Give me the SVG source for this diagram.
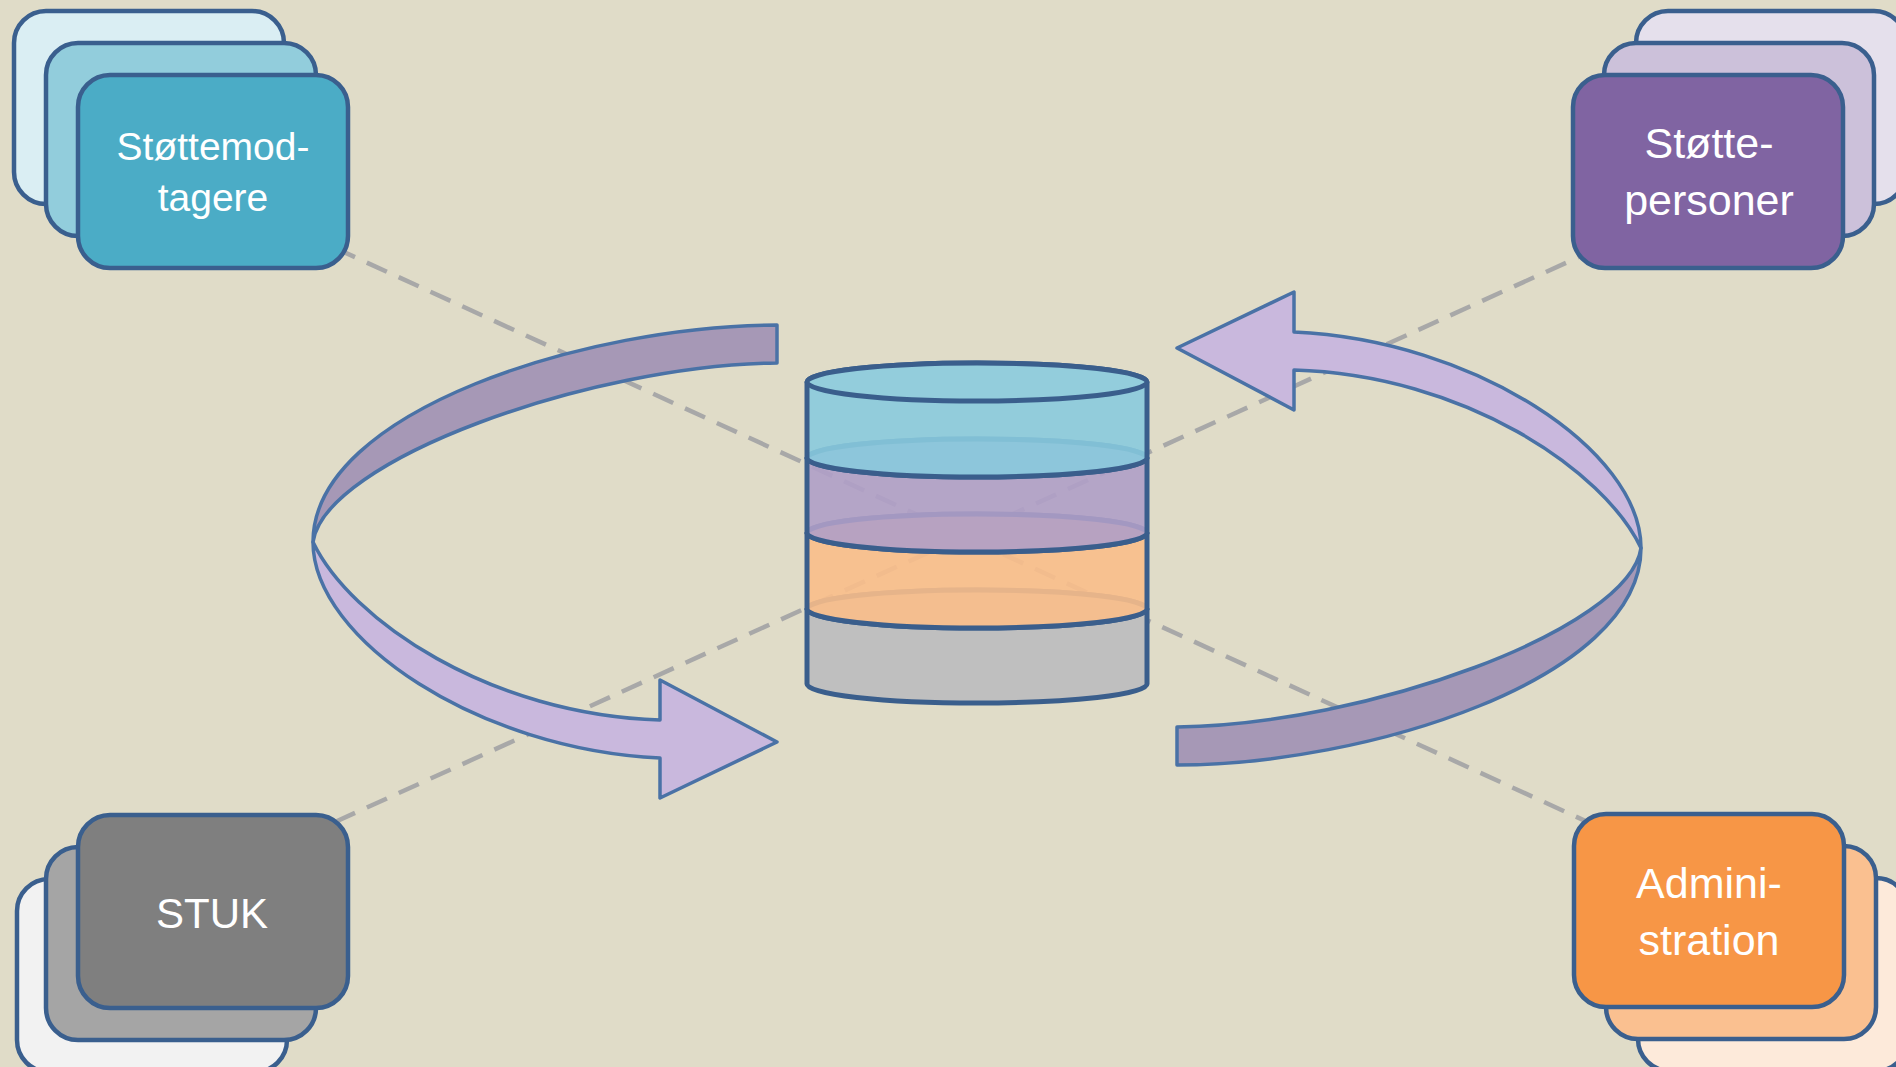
<svg xmlns="http://www.w3.org/2000/svg" width="1896" height="1067" viewBox="0 0 1896 1067">
  <style>
    .card { stroke: #3A5F8E; stroke-width: 4.5; }
    .lbl { font-family: "Liberation Sans", Arial, sans-serif; fill: #FFFFFF; text-anchor: middle; }
    .dash { stroke: #A8A8A8; stroke-width: 4.5; stroke-dasharray: 22 13; fill: none; }
    .cyl { stroke: #3A5E8C; stroke-width: 5; }
    .arr { stroke: #4A72A6; stroke-width: 3.5; stroke-linejoin: round; }
    .dark { fill: #A698B6; }
    .light { fill: #C9B8DD; }
  </style>
  <defs>
    <path id="arrowDark" d="M 777,325 C 590,325 313,410 313,542 C 325,460 590,365 777,363 Z"/>
    <path id="arrowLight" d="M 313,542 C 350,620 490,715 660,720 L 660,680 L 777,742 L 660,798 L 660,758 C 480,750 313,640 313,542 Z"/>
  </defs>
  <rect x="0" y="0" width="1896" height="1067" fill="#E0DCC8"/>

  <g id="connectors">
    <line class="dash" x1="335" y1="248" x2="1592" y2="824"/>
    <line class="dash" x1="335" y1="822" x2="1592" y2="251"/>
  </g>

  <g id="database">
    <g>
      <path class="cyl" fill="#BFBFBF" d="M 807,609 L 807,684 A 170 19 0 0 0 1147,684 L 1147,609 A 170 19 0 0 0 807,609 Z"/>
      <ellipse class="cyl" fill="#BFBFBF" cx="977" cy="609" rx="170" ry="19"/>
    </g>
    <g>
      <path class="cyl" fill="#FABE8A" fill-opacity="0.9" d="M 807,533 L 807,609 A 170 19 0 0 0 1147,609 L 1147,533 A 170 19 0 0 0 807,533 Z"/>
      <ellipse class="cyl" fill="#FABE8A" fill-opacity="0.9" cx="977" cy="533" rx="170" ry="19"/>
    </g>
    <g>
      <path class="cyl" fill="#AF9FC7" fill-opacity="0.9" d="M 807,458 L 807,533 A 170 19 0 0 0 1147,533 L 1147,458 A 170 19 0 0 0 807,458 Z"/>
      <ellipse class="cyl" fill="#AF9FC7" fill-opacity="0.9" cx="977" cy="458" rx="170" ry="19"/>
    </g>
    <g>
      <path class="cyl" fill="#8ACADD" fill-opacity="0.9" d="M 807,382 L 807,458 A 170 19 0 0 0 1147,458 L 1147,382 A 170 19 0 0 0 807,382 Z"/>
      <ellipse class="cyl" fill="#93CDDC" cx="977" cy="382" rx="170" ry="19"/>
    </g>
  </g>

  <g id="arrow-left">
    <use href="#arrowDark" class="arr dark"/>
    <use href="#arrowLight" class="arr light"/>
  </g>
  <g id="arrow-right" transform="rotate(180 977 545)">
    <use href="#arrowDark" class="arr dark"/>
    <use href="#arrowLight" class="arr light"/>
  </g>

  <g id="node-stottemodtagere">
    <rect class="card" x="14" y="11" width="270" height="193" rx="32" fill="#DAEEF3"/>
    <rect class="card" x="46" y="43" width="270" height="193" rx="32" fill="#92CDDC"/>
    <rect class="card" x="78" y="75" width="270" height="193" rx="32" fill="#4BACC6"/>
    <text class="lbl" font-size="39" x="213" y="160">Støttemod-</text>
    <text class="lbl" font-size="39" x="213" y="211">tagere</text>
  </g>

  <g id="node-stottepersoner">
    <rect class="card" x="1636" y="11" width="270" height="193" rx="32" fill="#E5E0EC"/>
    <rect class="card" x="1604" y="43" width="270" height="193" rx="32" fill="#CCC1DA"/>
    <rect class="card" x="1573" y="75" width="270" height="193" rx="32" fill="#8064A2"/>
    <text class="lbl" font-size="43" x="1709" y="158">Støtte-</text>
    <text class="lbl" font-size="43" x="1709" y="215">personer</text>
  </g>

  <g id="node-stuk">
    <rect class="card" x="17" y="879" width="270" height="193" rx="32" fill="#F2F2F2"/>
    <rect class="card" x="46" y="847" width="270" height="193" rx="32" fill="#A5A5A5"/>
    <rect class="card" x="78" y="815" width="270" height="193" rx="32" fill="#7F7F7F"/>
    <text class="lbl" font-size="42" x="212" y="928">STUK</text>
  </g>

  <g id="node-administration">
    <rect class="card" x="1638" y="878" width="270" height="193" rx="32" fill="#FDEADA"/>
    <rect class="card" x="1606" y="846" width="270" height="193" rx="32" fill="#FAC090"/>
    <rect class="card" x="1574" y="814" width="270" height="193" rx="32" fill="#F79646"/>
    <text class="lbl" font-size="43" x="1709" y="898">Admini-</text>
    <text class="lbl" font-size="43" x="1709" y="955">stration</text>
  </g>
</svg>
